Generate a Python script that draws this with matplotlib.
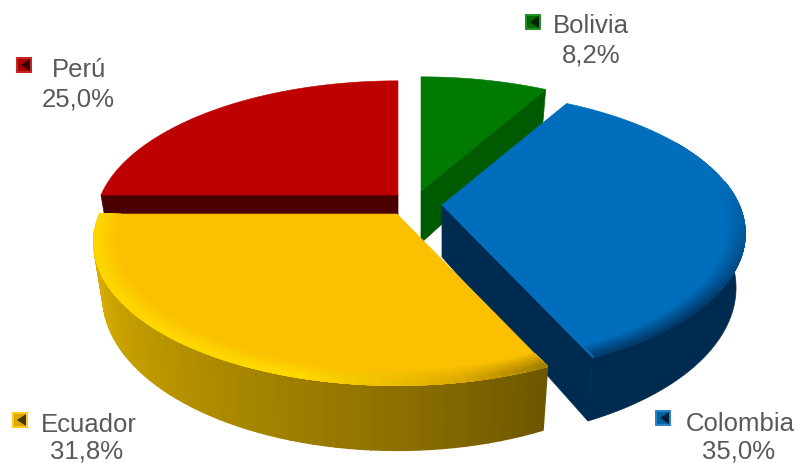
import numpy as np
import matplotlib.pyplot as plt
from matplotlib.colors import to_rgb

plt.rcParams['font.family'] = ['Liberation Sans', 'DejaVu Sans']

# Datos del grafico
paises = ['Bolivia', 'Colombia', 'Ecuador', 'Perú']
porcentajes = [8.2, 35.0, 31.8, 25.0]

colores = ['#007A00', '#006EBD', '#FBC000', '#BD0000']
colores_corte = ['#005A00', '#002B50', '#7A5E00', '#4A0000']

# Vertice de cada porcion (px), ya separada
vertices = [(421, 192), (442, 206), (397, 215), (398, 196)]
# Clave y texto de cada pais (px)
pos_clave = [(525, 15), (655, 411), (12, 413), (16, 58)]
pos_nombre = [(591, 26), (740, 424), (89, 425), (79, 70)]
pos_valor = [(591, 56), (739, 452), (87, 452), (78, 100)]

A, B, K, H = 297, 137, 0.20, 52  # radios, perspectiva, altura


def proyectar(cx, cy, theta, r=1.0, abajo=False):
    # theta en grados, sentido horario desde arriba
    t = np.radians(theta)
    u, v = r * np.sin(t), r * np.cos(t)
    s = 1 / (1 + K * v)
    if abajo:
        return cx + 0.97 * A * u * s, cy - B * v * s + H * s
    return cx + A * u * s, cy - B * v * s


def mezcla(c1, c2, f):
    return tuple((1 - f) * np.array(to_rgb(c1)) + f * np.array(to_rgb(c2)))


def banda(ax, cx, cy, t0, t1, r0, r1, color):
    th = np.linspace(t0, t1, 6)
    x0, y0 = proyectar(cx, cy, th, r0)
    x1, y1 = proyectar(cx, cy, th[::-1], r1)
    ax.fill(np.r_[x0, x1], np.r_[y0, y1], color=color, lw=0.8)


def pared(ax, cx, cy, t0, t1, color_fn, n=60):
    bordes = np.linspace(t0, t1, n + 1)
    for a, b in zip(bordes[:-1], bordes[1:]):
        th = np.linspace(a, b, 4)
        xs, ys = proyectar(cx, cy, th)
        xi, yi = proyectar(cx, cy, th[::-1], abajo=True)
        ax.fill(np.r_[xs, xi], np.r_[ys, yi], color=color_fn((a + b) / 2), lw=1.2)


def corte(ax, cx, cy, theta, color):
    xs, ys = proyectar(cx, cy, theta)
    xi, yi = proyectar(cx, cy, theta, abajo=True)
    ax.fill([cx, xs, xi, cx], [cy, ys, yi, cy + H], color=color, lw=0.5)


def cara(ax, cx, cy, t0, t1, color):
    th = np.linspace(t0, t1, 150)
    x, y = proyectar(cx, cy, th)
    ax.fill(np.r_[cx, x], np.r_[cy, y], color=color, lw=0.4)


def pared_ecuador(t):
    return mezcla('#665000', '#D6AC00', np.clip((t - 152) / 100, 0, 1) ** 0.85)


def borde_ecuador(t):
    return tuple(np.interp(t, [150, 170, 195, 280], [c1, c2, c3, c4])
                 for c1, c2, c3, c4 in zip(to_rgb('#8A6C00'), to_rgb('#DDAA00'),
                                           to_rgb('#FFD800'), to_rgb('#FFD400')))


fig = plt.figure(figsize=(7.96, 4.64), dpi=100)
ax = fig.add_axes([0, 0, 1, 1])
ax.set_xlim(0, 796)
ax.set_ylim(464, 0)
ax.axis('off')

fin = np.cumsum(porcentajes) * 3.6
ini = np.r_[0, fin[:-1]]

# Peru, Bolivia, Colombia y Ecuador: de atras hacia adelante
for i in [3, 0, 1, 2]:
    cx, cy = vertices[i]
    t0, t1 = ini[i], fin[i]
    if i == 3:
        corte(ax, cx, cy, t0, colores_corte[i])
    if i == 0:
        corte(ax, cx, cy, t1, colores_corte[i])
    if i == 1:
        corte(ax, cx, cy, t1, colores_corte[i])
        th = np.linspace(60, t1, 80)
        xs, ys = proyectar(cx, cy, th)
        xi, yi = proyectar(cx, cy, th[::-1], abajo=True)
        ax.fill(np.r_[xs, xi], np.r_[ys, yi], color=colores_corte[i], lw=0.5)
    if i == 2:
        pared(ax, cx, cy, t0, t1, pared_ecuador)
    cara(ax, cx, cy, t0, t1, colores[i])

    # bisel difuminado del borde
    if i == 1:
        for f, r in zip(np.linspace(0.1, 1, 8), np.linspace(0.94, 0.995, 8)):
            bordes = np.linspace(80, t1 - 0.5, 40)
            for a, b in zip(bordes[:-1], bordes[1:]):
                peso = np.clip(((a + b) / 2 - 80) / 50, 0, 1) * f
                banda(ax, cx, cy, a, b, r, 1.0, mezcla(colores[1], colores_corte[1], peso * 0.75))
    if i == 2:
        for f, r in zip(np.linspace(0.15, 1, 8), np.linspace(0.93, 0.985, 8)):
            bordes = np.linspace(t0, t1, 60)
            for a, b in zip(bordes[:-1], bordes[1:]):
                banda(ax, cx, cy, a, b, r, 1.0, mezcla(colores[2], borde_ecuador((a + b) / 2), f))

# Leyenda
for i, pais in enumerate(paises):
    x, y = pos_clave[i]
    color = colores[i]
    ax.fill([x, x + 16, x + 16, x], [y, y, y + 16, y + 16], color=mezcla(color, 'white', 0.15), lw=0)
    ax.fill([x + 2, x + 14, x + 14, x + 2], [y + 2, y + 2, y + 14, y + 14], color=mezcla(color, 'black', 0.12), lw=0)
    ax.fill([x + 14, x + 5, x + 14], [y + 2, y + 8, y + 14], color=mezcla(color, 'black', 0.72), lw=0)
    ax.text(*pos_nombre[i], pais, ha='center', va='center', fontsize=18.5, color='#595959')
    valor = f'{porcentajes[i]:.1f}%'.replace('.', ',')
    ax.text(*pos_valor[i], valor, ha='center', va='center', fontsize=18.5, color='#595959')

plt.savefig('out.png', dpi=100)
plt.close()
